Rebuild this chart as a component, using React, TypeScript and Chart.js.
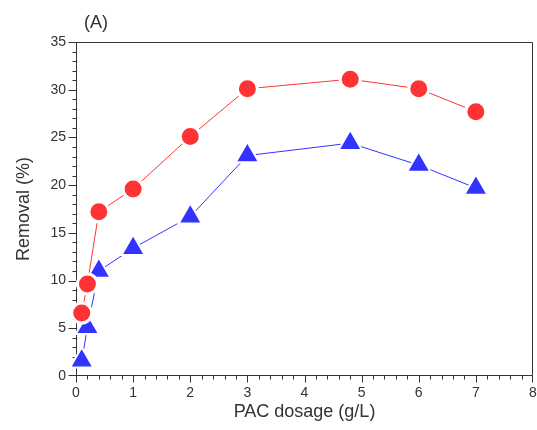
import React, { useEffect, useRef } from 'react';
import { Chart, registerables } from 'chart.js';

Chart.register(...registerables);

// ---- data ----
const dosage = [0.1, 0.2, 0.4, 1, 2, 3, 4.8, 6, 7];
const removalRed = [6.6, 9.65, 17.2, 19.6, 25.1, 30.1, 31.1, 30.1, 27.7];
const removalBlue = [1.6, 5.1, 11.0, 13.4, 16.7, 23.1, 24.4, 22.1, 19.7];

const xRange = [0, 8];
const yRange = [0, 35];
const xMajorStep = 1;
const xMinorStep = 0.2;
const yMajorStep = 5;
const yMinorStep = 1;

const panelLabel = '(A)';
const xTitle = 'PAC dosage (g/L)';
const yTitle = 'Removal (%)';

const RED = '#ff3333';
const BLUE = '#3333ff';
const AXIS = '#333333';
const TEXT = '#333333';
const FONT = '"Liberation Sans", Arial, Helvetica, sans-serif';

const decoPlugin = {
  id: 'deco',
  beforeDatasetsDraw(chart: any) {
    const { ctx, chartArea: a, scales } = chart;
    const x = scales.x;
    const y = scales.y;
    ctx.save();
    ctx.strokeStyle = AXIS;
    ctx.lineWidth = 1;
    const L = Math.round(a.left) + 0.5;
    const R = Math.round(a.right) - 0.5;
    const T = Math.round(a.top) + 0.5;
    const B = Math.round(a.bottom) - 0.5;
    ctx.beginPath();
    ctx.rect(L, T, R - L, B - T);
    ctx.stroke();

    // x ticks
    const nx = Math.round((xRange[1] - xRange[0]) / xMinorStep);
    const xRatio = Math.round(xMajorStep / xMinorStep);
    ctx.beginPath();
    for (let i = 0; i <= nx; i++) {
      const v = xRange[0] + i * xMinorStep;
      const px = Math.round(x.getPixelForValue(v)) + 0.5;
      const xx = Math.min(Math.max(px, L), R);
      const len = i % xRatio === 0 ? 7 : 4;
      ctx.moveTo(xx, B);
      ctx.lineTo(xx, B + len);
    }
    // y ticks
    const ny = Math.round((yRange[1] - yRange[0]) / yMinorStep);
    const yRatio = Math.round(yMajorStep / yMinorStep);
    for (let i = 0; i <= ny; i++) {
      const v = yRange[0] + i * yMinorStep;
      const py = Math.round(y.getPixelForValue(v)) + 0.5;
      const yy = Math.min(Math.max(py, T), B);
      const len = i % yRatio === 0 ? 8 : 4;
      ctx.moveTo(L, yy);
      ctx.lineTo(L - len, yy);
    }
    ctx.stroke();
    ctx.restore();
  },
  afterDraw(chart: any) {
    const { ctx } = chart;
    ctx.save();
    ctx.fillStyle = TEXT;
    ctx.font = `18px ${FONT}`;
    ctx.textAlign = 'center';
    ctx.textBaseline = 'middle';
    ctx.fillText(panelLabel, 96, 23);
    ctx.restore();
  },
};

export default function App() {
  const ref = useRef<HTMLCanvasElement | null>(null);

  useEffect(() => {
    document.body.style.margin = '0';
    const canvas = ref.current;
    if (!canvas) return;
    const chart = new Chart(canvas, {
      type: 'line',
      data: {
        datasets: [
          {
            label: 'red',
            data: dosage.map((d, i) => ({ x: d, y: removalRed[i] })),
            borderColor: RED,
            borderWidth: 1,
            backgroundColor: RED,
            pointStyle: 'circle',
            pointRadius: 10,
            pointBackgroundColor: RED,
            pointBorderColor: '#ffffff',
            pointBorderWidth: 3,
            tension: 0,
            clip: false as any,
          },
          {
            label: 'blue',
            data: dosage.map((d, i) => ({ x: d, y: removalBlue[i] })),
            borderColor: BLUE,
            borderWidth: 1,
            backgroundColor: BLUE,
            pointStyle: 'triangle',
            pointRadius: 13.5,
            pointBackgroundColor: BLUE,
            pointBorderColor: '#ffffff',
            pointBorderWidth: 2,
            tension: 0,
            clip: false as any,
          },
        ],
      },
      options: {
        animation: false,
        responsive: false,
        devicePixelRatio: 1,
        layout: { autoPadding: false, padding: { top: 42, right: 4, left: 0, bottom: 0 } },
        plugins: {
          legend: { display: false },
          tooltip: { enabled: false },
          title: { display: false },
        },
        scales: {
          x: {
            type: 'linear',
            min: xRange[0],
            max: xRange[1],
            grid: { display: false, drawTicks: false },
            border: { display: false },
            ticks: {
              stepSize: xMajorStep,
              color: TEXT,
              font: { family: FONT, size: 14 },
              padding: 9,
              maxRotation: 0,
            },
            title: {
              display: true,
              text: xTitle,
              color: TEXT,
              font: { family: FONT, size: 18 },
              padding: { top: 0, bottom: 7 },
            },
            afterFit(scale: any) {
              scale.height = 54;
              scale.paddingLeft = 0;
              scale.paddingRight = 0;
            },
          },
          y: {
            type: 'linear',
            min: yRange[0],
            max: yRange[1],
            grid: { display: false, drawTicks: false },
            border: { display: false },
            ticks: {
              stepSize: yMajorStep,
              color: TEXT,
              font: { family: FONT, size: 14 },
              padding: 10,
            },
            title: {
              display: true,
              text: yTitle,
              color: TEXT,
              font: { family: FONT, size: 18 },
              padding: { top: 13, bottom: 0 },
            },
            afterFit(scale: any) {
              scale.width = 76;
              scale.paddingTop = 0;
              scale.paddingBottom = 0;
            },
          },
        },
      } as any,
      plugins: [decoPlugin],
    });
    return () => chart.destroy();
  }, []);

  return <canvas ref={ref} width={537} height={430} style={{ display: 'block' }} />;
}
